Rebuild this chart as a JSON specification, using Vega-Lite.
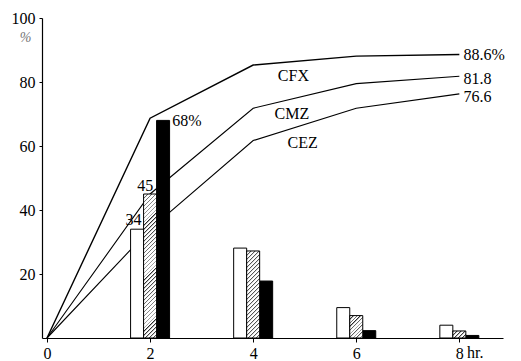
{
  "$schema": "https://vega.github.io/schema/vega-lite/v6.json",
  "width": 461,
  "height": 320,
  "autosize": {"type": "none"},
  "padding": {"left": 42, "top": 18, "right": 18, "bottom": 23},
  "background": "white",
  "config": {"view": {"stroke": null}, "font": "Liberation Serif", "text": {"font": "Liberation Serif"}},
  "datasets": {
    "lines": [
      {"d": "CFX", "t": 0, "v": 0}, {"d": "CFX", "t": 2, "v": 68.7}, {"d": "CFX", "t": 4, "v": 85.3}, {"d": "CFX", "t": 6, "v": 88.1}, {"d": "CFX", "t": 8, "v": 88.6},
      {"d": "CMZ", "t": 0, "v": 0}, {"d": "CMZ", "t": 2, "v": 45}, {"d": "CMZ", "t": 4, "v": 71.8}, {"d": "CMZ", "t": 6, "v": 79.5}, {"d": "CMZ", "t": 8, "v": 81.8},
      {"d": "CEZ", "t": 0, "v": 0}, {"d": "CEZ", "t": 2, "v": 34}, {"d": "CEZ", "t": 4, "v": 61.7}, {"d": "CEZ", "t": 6, "v": 71.8}, {"d": "CEZ", "t": 8, "v": 76.3}
    ],
    "bars": [
      {"d": "CEZ", "t": 2, "v": 34}, {"d": "CMZ", "t": 2, "v": 45}, {"d": "CFX", "t": 2, "v": 68},
      {"d": "CEZ", "t": 4, "v": 28.1}, {"d": "CMZ", "t": 4, "v": 27.2}, {"d": "CFX", "t": 4, "v": 17.8},
      {"d": "CEZ", "t": 6, "v": 9.5}, {"d": "CMZ", "t": 6, "v": 7}, {"d": "CFX", "t": 6, "v": 2.3},
      {"d": "CEZ", "t": 8, "v": 4}, {"d": "CMZ", "t": 8, "v": 2.2}, {"d": "CFX", "t": 8, "v": 0.8}
    ],
    "labels": [
      {"txt": "68%", "t": 2.43, "v": 67.8},
      {"txt": "45", "t": 1.907, "v": 47.5},
      {"txt": "34", "t": 1.68, "v": 36.9},
      {"txt": "88.6%", "t": 8.08, "v": 88.4},
      {"txt": "81.8", "t": 8.08, "v": 80.9},
      {"txt": "76.6", "t": 8.08, "v": 75.3},
      {"txt": "CFX", "t": 4.78, "v": 82.0},
      {"txt": "CMZ", "t": 4.75, "v": 70.0},
      {"txt": "CEZ", "t": 4.96, "v": 60.8},
      {"txt": "%", "t": -0.418, "v": 93.75},
      {"txt": "hr.", "t": 8.15, "v": -2.19}
    ]
  },
  "encoding": {
    "x": {
      "field": "t", "type": "quantitative",
      "scale": {"domain": [0, 8.75], "nice": false, "zero": false},
      "axis": {"values": [0, 2, 4, 6, 8], "title": null, "grid": false, "tickSize": 4, "labelPadding": 3, "labelFontSize": 16, "labelFont": "Liberation Serif", "labelColor": "black", "domainColor": "black", "tickColor": "black", "domainWidth": 1.2, "labelFlush": false, "labelBaseline": "top"}
    },
    "y": {
      "field": "v", "type": "quantitative",
      "scale": {"domain": [0, 100], "nice": false},
      "axis": {"values": [20, 40, 60, 80, 100], "title": null, "grid": false, "tickSize": 3, "labelPadding": 4, "labelFontSize": 16, "labelFont": "Liberation Serif", "labelColor": "black", "domainColor": "black", "tickColor": "black", "domainWidth": 1.2, "labelFlush": false}
    }
  },
  "layer": [
    {
      "data": {"name": "lines"},
      "mark": {"type": "line", "color": "black"},
      "encoding": {
        "detail": {"field": "d"},
        "strokeWidth": {"condition": {"test": "datum.d == 'CFX'", "value": 1.4}, "value": 1.1}
      }
    },
    {
      "data": {"name": "bars"},
      "transform": [{"filter": "datum.d == 'CEZ'"}],
      "mark": {"type": "bar", "orient": "vertical", "width": 13, "xOffset": -13, "fill": "white", "stroke": "black", "strokeWidth": 1}
    },
    {
      "data": {"name": "bars"},
      "transform": [{"filter": "datum.d == 'CFX'"}],
      "mark": {"type": "bar", "orient": "vertical", "width": 13, "xOffset": 13, "fill": "black", "stroke": "black", "strokeWidth": 1}
    },
    {
      "data": {"name": "bars"},
      "transform": [{"filter": "datum.d == 'CMZ'"}],
      "mark": {"type": "bar", "orient": "vertical", "width": 13, "xOffset": 0, "stroke": "black", "strokeWidth": 1},
      "encoding": {
        "fill": {
          "condition": [
            {"test": "datum.t == 2", "value": {"gradient": "linear", "x1": 0, "y1": 0, "x2": 0.0976, "y2": 1.0815, "stops": [
              {"offset":0,"color":"#222"},{"offset":0.01,"color":"#fff"},{"offset":0.025,"color":"#fff"},
              {"offset":0.025,"color":"#222"},{"offset":0.035,"color":"#fff"},{"offset":0.05,"color":"#fff"},
              {"offset":0.05,"color":"#222"},{"offset":0.06,"color":"#fff"},{"offset":0.075,"color":"#fff"},
              {"offset":0.075,"color":"#222"},{"offset":0.085,"color":"#fff"},{"offset":0.1,"color":"#fff"},
              {"offset":0.1,"color":"#222"},{"offset":0.11,"color":"#fff"},{"offset":0.125,"color":"#fff"},
              {"offset":0.125,"color":"#222"},{"offset":0.135,"color":"#fff"},{"offset":0.15,"color":"#fff"},
              {"offset":0.15,"color":"#222"},{"offset":0.16,"color":"#fff"},{"offset":0.175,"color":"#fff"},
              {"offset":0.175,"color":"#222"},{"offset":0.185,"color":"#fff"},{"offset":0.2,"color":"#fff"},
              {"offset":0.2,"color":"#222"},{"offset":0.21,"color":"#fff"},{"offset":0.225,"color":"#fff"},
              {"offset":0.225,"color":"#222"},{"offset":0.235,"color":"#fff"},{"offset":0.25,"color":"#fff"},
              {"offset":0.25,"color":"#222"},{"offset":0.26,"color":"#fff"},{"offset":0.275,"color":"#fff"},
              {"offset":0.275,"color":"#222"},{"offset":0.285,"color":"#fff"},{"offset":0.3,"color":"#fff"},
              {"offset":0.3,"color":"#222"},{"offset":0.31,"color":"#fff"},{"offset":0.325,"color":"#fff"},
              {"offset":0.325,"color":"#222"},{"offset":0.335,"color":"#fff"},{"offset":0.35,"color":"#fff"},
              {"offset":0.35,"color":"#222"},{"offset":0.36,"color":"#fff"},{"offset":0.375,"color":"#fff"},
              {"offset":0.375,"color":"#222"},{"offset":0.385,"color":"#fff"},{"offset":0.4,"color":"#fff"},
              {"offset":0.4,"color":"#222"},{"offset":0.41,"color":"#fff"},{"offset":0.425,"color":"#fff"},
              {"offset":0.425,"color":"#222"},{"offset":0.435,"color":"#fff"},{"offset":0.45,"color":"#fff"},
              {"offset":0.45,"color":"#222"},{"offset":0.46,"color":"#fff"},{"offset":0.475,"color":"#fff"},
              {"offset":0.475,"color":"#222"},{"offset":0.485,"color":"#fff"},{"offset":0.5,"color":"#fff"},
              {"offset":0.5,"color":"#222"},{"offset":0.51,"color":"#fff"},{"offset":0.525,"color":"#fff"},
              {"offset":0.525,"color":"#222"},{"offset":0.535,"color":"#fff"},{"offset":0.55,"color":"#fff"},
              {"offset":0.55,"color":"#222"},{"offset":0.56,"color":"#fff"},{"offset":0.575,"color":"#fff"},
              {"offset":0.575,"color":"#222"},{"offset":0.585,"color":"#fff"},{"offset":0.6,"color":"#fff"},
              {"offset":0.6,"color":"#222"},{"offset":0.61,"color":"#fff"},{"offset":0.625,"color":"#fff"},
              {"offset":0.625,"color":"#222"},{"offset":0.635,"color":"#fff"},{"offset":0.65,"color":"#fff"},
              {"offset":0.65,"color":"#222"},{"offset":0.66,"color":"#fff"},{"offset":0.675,"color":"#fff"},
              {"offset":0.675,"color":"#222"},{"offset":0.685,"color":"#fff"},{"offset":0.7,"color":"#fff"},
              {"offset":0.7,"color":"#222"},{"offset":0.71,"color":"#fff"},{"offset":0.725,"color":"#fff"},
              {"offset":0.725,"color":"#222"},{"offset":0.735,"color":"#fff"},{"offset":0.75,"color":"#fff"},
              {"offset":0.75,"color":"#222"},{"offset":0.76,"color":"#fff"},{"offset":0.775,"color":"#fff"},
              {"offset":0.775,"color":"#222"},{"offset":0.785,"color":"#fff"},{"offset":0.8,"color":"#fff"},
              {"offset":0.8,"color":"#222"},{"offset":0.81,"color":"#fff"},{"offset":0.825,"color":"#fff"},
              {"offset":0.825,"color":"#222"},{"offset":0.835,"color":"#fff"},{"offset":0.85,"color":"#fff"},
              {"offset":0.85,"color":"#222"},{"offset":0.86,"color":"#fff"},{"offset":0.875,"color":"#fff"},
              {"offset":0.875,"color":"#222"},{"offset":0.885,"color":"#fff"},{"offset":0.9,"color":"#fff"},
              {"offset":0.9,"color":"#222"},{"offset":0.91,"color":"#fff"},{"offset":0.925,"color":"#fff"},
              {"offset":0.925,"color":"#222"},{"offset":0.935,"color":"#fff"},{"offset":0.95,"color":"#fff"},
              {"offset":0.95,"color":"#222"},{"offset":0.96,"color":"#fff"},{"offset":0.975,"color":"#fff"},
              {"offset":0.975,"color":"#222"},{"offset":0.985,"color":"#fff"},{"offset":1,"color":"#fff"}
            ]}},
            {"test": "datum.t == 4", "value": {"gradient": "linear", "x1": 0, "y1": 0, "x2": 0.168, "y2": 1.124, "stops": [
              {"offset":0,"color":"#222"},{"offset":0.016,"color":"#fff"},{"offset":0.04,"color":"#fff"},
              {"offset":0.04,"color":"#222"},{"offset":0.056,"color":"#fff"},{"offset":0.08,"color":"#fff"},
              {"offset":0.08,"color":"#222"},{"offset":0.096,"color":"#fff"},{"offset":0.12,"color":"#fff"},
              {"offset":0.12,"color":"#222"},{"offset":0.136,"color":"#fff"},{"offset":0.16,"color":"#fff"},
              {"offset":0.16,"color":"#222"},{"offset":0.176,"color":"#fff"},{"offset":0.2,"color":"#fff"},
              {"offset":0.2,"color":"#222"},{"offset":0.216,"color":"#fff"},{"offset":0.24,"color":"#fff"},
              {"offset":0.24,"color":"#222"},{"offset":0.256,"color":"#fff"},{"offset":0.28,"color":"#fff"},
              {"offset":0.28,"color":"#222"},{"offset":0.296,"color":"#fff"},{"offset":0.32,"color":"#fff"},
              {"offset":0.32,"color":"#222"},{"offset":0.336,"color":"#fff"},{"offset":0.36,"color":"#fff"},
              {"offset":0.36,"color":"#222"},{"offset":0.376,"color":"#fff"},{"offset":0.4,"color":"#fff"},
              {"offset":0.4,"color":"#222"},{"offset":0.416,"color":"#fff"},{"offset":0.44,"color":"#fff"},
              {"offset":0.44,"color":"#222"},{"offset":0.456,"color":"#fff"},{"offset":0.48,"color":"#fff"},
              {"offset":0.48,"color":"#222"},{"offset":0.496,"color":"#fff"},{"offset":0.52,"color":"#fff"},
              {"offset":0.52,"color":"#222"},{"offset":0.536,"color":"#fff"},{"offset":0.56,"color":"#fff"},
              {"offset":0.56,"color":"#222"},{"offset":0.576,"color":"#fff"},{"offset":0.6,"color":"#fff"},
              {"offset":0.6,"color":"#222"},{"offset":0.616,"color":"#fff"},{"offset":0.64,"color":"#fff"},
              {"offset":0.64,"color":"#222"},{"offset":0.656,"color":"#fff"},{"offset":0.68,"color":"#fff"},
              {"offset":0.68,"color":"#222"},{"offset":0.696,"color":"#fff"},{"offset":0.72,"color":"#fff"},
              {"offset":0.72,"color":"#222"},{"offset":0.736,"color":"#fff"},{"offset":0.76,"color":"#fff"},
              {"offset":0.76,"color":"#222"},{"offset":0.776,"color":"#fff"},{"offset":0.8,"color":"#fff"},
              {"offset":0.8,"color":"#222"},{"offset":0.816,"color":"#fff"},{"offset":0.84,"color":"#fff"},
              {"offset":0.84,"color":"#222"},{"offset":0.856,"color":"#fff"},{"offset":0.88,"color":"#fff"},
              {"offset":0.88,"color":"#222"},{"offset":0.896,"color":"#fff"},{"offset":0.92,"color":"#fff"},
              {"offset":0.92,"color":"#222"},{"offset":0.936,"color":"#fff"},{"offset":0.96,"color":"#fff"},
              {"offset":0.96,"color":"#222"},{"offset":0.976,"color":"#fff"},{"offset":1,"color":"#fff"}
            ]}},
            {"test": "datum.t == 6", "value": {"gradient": "linear", "x1": 0, "y1": 0, "x2": 0.686, "y2": 1.182, "stops": [
              {"offset":0,"color":"#222"},{"offset":0.045,"color":"#fff"},{"offset":0.1,"color":"#fff"},
              {"offset":0.1,"color":"#222"},{"offset":0.145,"color":"#fff"},{"offset":0.2,"color":"#fff"},
              {"offset":0.2,"color":"#222"},{"offset":0.245,"color":"#fff"},{"offset":0.3,"color":"#fff"},
              {"offset":0.3,"color":"#222"},{"offset":0.345,"color":"#fff"},{"offset":0.4,"color":"#fff"},
              {"offset":0.4,"color":"#222"},{"offset":0.445,"color":"#fff"},{"offset":0.5,"color":"#fff"},
              {"offset":0.5,"color":"#222"},{"offset":0.545,"color":"#fff"},{"offset":0.6,"color":"#fff"},
              {"offset":0.6,"color":"#222"},{"offset":0.645,"color":"#fff"},{"offset":0.7,"color":"#fff"},
              {"offset":0.7,"color":"#222"},{"offset":0.745,"color":"#fff"},{"offset":0.8,"color":"#fff"},
              {"offset":0.8,"color":"#222"},{"offset":0.845,"color":"#fff"},{"offset":0.9,"color":"#fff"},
              {"offset":0.9,"color":"#222"},{"offset":0.945,"color":"#fff"},{"offset":1,"color":"#fff"}
            ]}}
          ],
          "value": {"gradient": "linear", "x1": 0, "y1": 0, "x2": 1.193, "y2": 0.642, "stops": [
            {"offset":0,"color":"#222"},{"offset":0.08,"color":"#fff"},{"offset":0.2,"color":"#fff"},
            {"offset":0.2,"color":"#222"},{"offset":0.28,"color":"#fff"},{"offset":0.4,"color":"#fff"},
            {"offset":0.4,"color":"#222"},{"offset":0.48,"color":"#fff"},{"offset":0.6,"color":"#fff"},
            {"offset":0.6,"color":"#222"},{"offset":0.68,"color":"#fff"},{"offset":0.8,"color":"#fff"},
            {"offset":0.8,"color":"#222"},{"offset":0.88,"color":"#fff"},{"offset":1,"color":"#fff"}
          ]}
        }
      }
    },
    {
      "data": {"name": "labels"},
      "transform": [{"filter": "indexof(['68%','88.6%','81.8','76.6'], datum.txt) >= 0"}],
      "mark": {"type": "text", "align": "left", "baseline": "middle", "fontSize": 16, "font": "Liberation Serif", "color": "black"},
      "encoding": {"text": {"field": "txt"}}
    },
    {
      "data": {"name": "labels"},
      "transform": [{"filter": "indexof(['45','34','CFX','CMZ','CEZ'], datum.txt) >= 0"}],
      "mark": {"type": "text", "align": "center", "baseline": "middle", "fontSize": 16, "font": "Liberation Serif", "color": "black"},
      "encoding": {"text": {"field": "txt"}}
    },
    {
      "data": {"name": "labels"},
      "transform": [{"filter": "datum.txt == '%'"}],
      "mark": {"type": "text", "align": "center", "baseline": "middle", "fontSize": 14, "fontStyle": "italic", "font": "Liberation Serif", "color": "#777"},
      "encoding": {"text": {"field": "txt"}}
    },
    {
      "data": {"name": "labels"},
      "transform": [{"filter": "datum.txt == 'hr.'"}],
      "mark": {"type": "text", "align": "left", "baseline": "top", "fontSize": 16, "font": "Liberation Serif", "color": "black"},
      "encoding": {"text": {"field": "txt"}}
    }
  ]
}
